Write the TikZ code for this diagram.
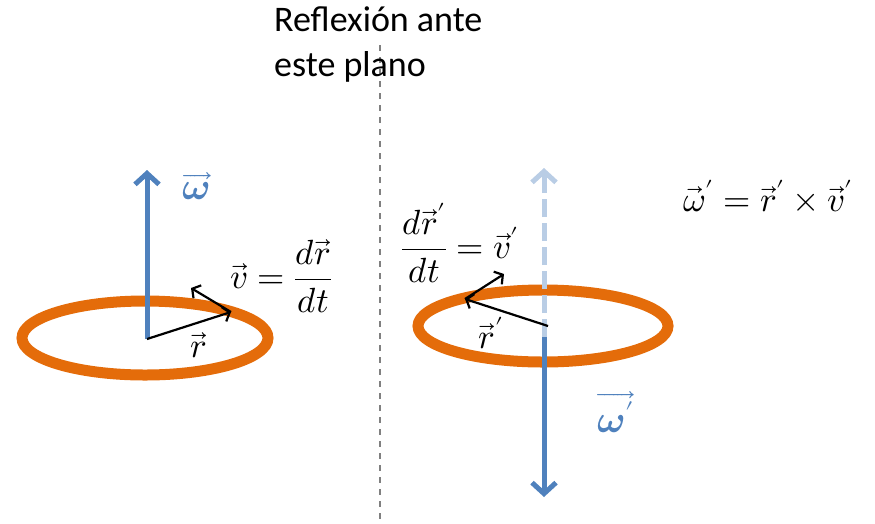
\documentclass[tikz,border=0pt]{standalone}
\usepackage{amsmath,amssymb}
\usepackage{fontspec}
\usepackage{unicode-math}
\setmainfont{Carlito}
\setmathfont{Latin Modern Math}
\usetikzlibrary{arrows.meta,positioning}
\definecolor{ringorange}{RGB}{228,108,10}
\definecolor{axisblue}{RGB}{79,129,189}
\definecolor{ghostblue}{RGB}{185,205,229}
\begin{document}
\begin{tikzpicture}[
    x=1pt, y=-1pt,
    ring/.style={draw=ringorange, line width=11pt},
    axis/.style={draw=axisblue, line width=5pt, -{Straight Barb[length=11pt,width=24pt]}},
    ghost/.style={axis, draw=ghostblue, dash pattern=on 18pt off 6pt},
    vecarrow/.style={draw=black, line width=2.2pt, -{Straight Barb[length=6pt,width=15pt]}},
    plane/.style={draw=gray, line width=1.2pt, dash pattern=on 6pt off 6pt},
    mathlbl/.style={font=\fontsize{35}{40}\selectfont, inner sep=0},
    omegalbl/.style={font=\fontsize{38}{44}\selectfont, text=axisblue, inner sep=0}
]
\useasboundingbox (0,0) rectangle (875,523);

% plano de reflexion
\coordinate (planetop) at (380,45);
\coordinate (planebot) at (380,523);
\draw[plane] (planetop) -- (planebot);
\node[anchor=north west, align=left, inner sep=0, font=\fontsize{36}{45}\selectfont] (title) at (274,7) {Reflexión ante\\este plano};

% lado izquierdo
\coordinate (lring) at (145,338);
\coordinate (lo) at (147,339);
\coordinate (ltop) at (147,170);
\coordinate (lr) at (231,312);
\coordinate (lv) at (191,288);
\draw[ring] (lring) ellipse [x radius=123, y radius=37];
\draw[axis] (lo) -- (ltop);
\draw[vecarrow] (lo) -- (lr);
\draw[vecarrow] (lr) -- (lv);
\node[omegalbl] (lomega) at (196,186) {$\overrightarrow{\symbfit{\omega}}$};
\node[mathlbl] (lrlbl) at (199,345) {$\vec{r}$};
\node[mathlbl] (lvlbl) at (281,276) {$\vec{v}=\dfrac{d\vec{r}}{dt}$};

% lado derecho (reflejado)
\coordinate (rring) at (543,326);
\coordinate (ro) at (544,337);
\coordinate (rc) at (548,326);
\coordinate (rtop) at (544,168);
\coordinate (rbot) at (544,497);
\coordinate (rr) at (465,299);
\coordinate (rv) at (504,274);
\draw[ring] (rring) ellipse [x radius=125, y radius=36];
\draw[ghost] (ro) -- (rtop);
\draw[axis] (ro) -- (rbot);
\draw[vecarrow] (rc) -- (rr);
\draw[vecarrow] (rr) -- (rv);
\node[omegalbl] (romega) at (616,412) {$\overrightarrow{\symbfit{\omega}'}$};
\node[mathlbl] (rrlbl) at (491,333) {$\vec{r}'$};
\node[mathlbl] (rvlbl) at (460,243) {$\dfrac{d\vec{r}'}{dt}=\vec{v}'$};
\node[mathlbl] (cross) at (768,196) {$\vec{\omega}'=\vec{r}'\times\vec{v}'$};
\end{tikzpicture}
\end{document}
